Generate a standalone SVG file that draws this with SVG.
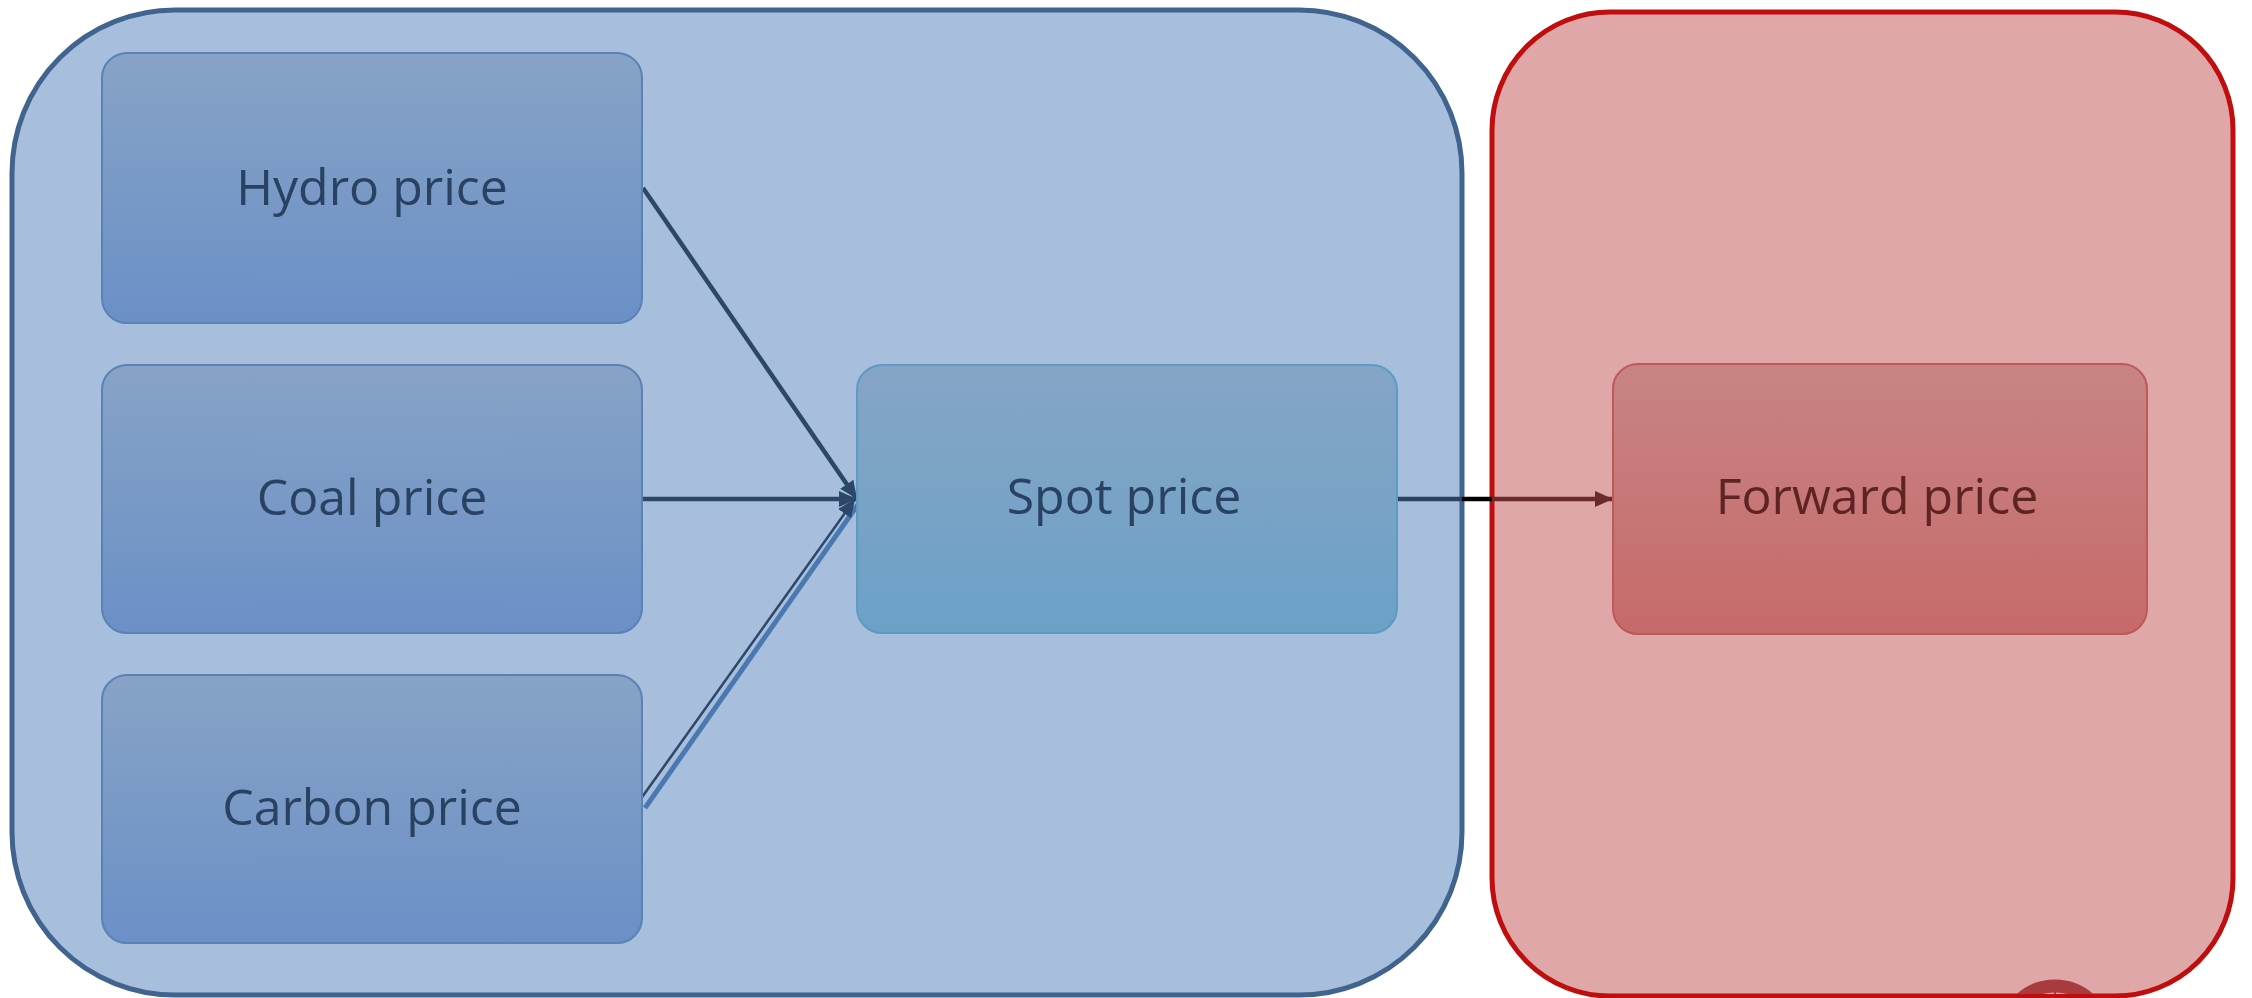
<svg xmlns="http://www.w3.org/2000/svg" width="2252" height="998" viewBox="0 0 2252 998">
<defs>
<style>
.lbl{font-family:"Open Sans","Liberation Sans",sans-serif;font-size:50px;text-anchor:middle}
.bt{fill:#2a4262}
.rt{fill:#5e2424}
.bn{fill:url(#gBlue);stroke:#5a82b5;stroke-width:2}
</style>
<linearGradient id="gBlue" x1="0" y1="0" x2="0" y2="1"><stop offset="0" stop-color="#87a3c6"/><stop offset="1" stop-color="#6b90c7"/></linearGradient>
<linearGradient id="gSpot" x1="0" y1="0" x2="0" y2="1"><stop offset="0" stop-color="#85a5c6"/><stop offset="1" stop-color="#6ca1c7"/></linearGradient>
<linearGradient id="gFwd" x1="0" y1="0" x2="0" y2="1"><stop offset="0" stop-color="#c88484"/><stop offset="1" stop-color="#c66a6a"/></linearGradient>
<marker id="aB" markerUnits="userSpaceOnUse" markerWidth="22" markerHeight="18" refX="18" refY="9" orient="auto"><path d="M0,1 L18,9 L0,17 Z" fill="#2c4767"/></marker>
<marker id="aR" markerUnits="userSpaceOnUse" markerWidth="22" markerHeight="18" refX="18" refY="9" orient="auto"><path d="M0,1 L18,9 L0,17 Z" fill="#6a2b2b"/></marker>
<clipPath id="cBottom"><rect x="0" y="0" width="2252" height="994"/></clipPath>
</defs>
<g id="group-blue">
<rect x="12" y="10" width="1450" height="985" rx="163" ry="163" fill="#a7bfdd" stroke="#41648f" stroke-width="5"/>
</g>
<g id="group-red">
<rect x="1492" y="12" width="741" height="984" rx="118" ry="118" fill="#dfa7a7" stroke="#c00d0d" stroke-width="5"/>
</g>
<g id="loop-mark" clip-path="url(#cBottom)">
<circle cx="2055" cy="1037" r="51" fill="#e6b3b3" stroke="#a83c3c" stroke-width="13"/>
<line x1="2055" y1="990" x2="2055" y2="998" stroke="#a83c3c" stroke-width="2"/>
</g>
<g id="connectors" fill="none">
<line x1="643" y1="188" x2="857" y2="499" stroke="#2c4767" stroke-width="4.5" marker-end="url(#aB)"/>
<line x1="643" y1="499" x2="857" y2="499" stroke="#2c4767" stroke-width="4.5" marker-end="url(#aB)"/>
<line x1="645" y1="808" x2="859" y2="503" stroke="#4a78b0" stroke-width="5"/>
<line x1="640" y1="800" x2="855" y2="499" stroke="#2c4767" stroke-width="2.5" marker-end="url(#aB)"/>
<line x1="1397" y1="499" x2="1462" y2="499" stroke="#2c4260" stroke-width="4.5"/>
<line x1="1462" y1="499" x2="1492" y2="499" stroke="#000000" stroke-width="4.5"/>
<line x1="1492" y1="499" x2="1613" y2="499" stroke="#6a2b2b" stroke-width="4.5" marker-end="url(#aR)"/>
</g>
<g id="node-hydro">
<rect class="bn" x="102" y="53" width="540" height="270" rx="25" ry="25"/>
<text class="lbl bt" x="372" y="205">Hydro price</text>
</g>
<g id="node-coal">
<rect class="bn" x="102" y="365" width="540" height="268" rx="25" ry="25"/>
<text class="lbl bt" x="372" y="515">Coal price</text>
</g>
<g id="node-carbon">
<rect class="bn" x="102" y="675" width="540" height="268" rx="25" ry="25"/>
<text class="lbl bt" x="372" y="825">Carbon price</text>
</g>
<g id="node-spot">
<rect x="857" y="365" width="540" height="268" rx="25" ry="25" fill="url(#gSpot)" stroke="#5d9bc4" stroke-width="2"/>
<text class="lbl bt" x="1124" y="514">Spot price</text>
</g>
<g id="node-forward">
<rect x="1613" y="364" width="534" height="270" rx="25" ry="25" fill="url(#gFwd)" stroke="#bc5a5a" stroke-width="2"/>
<text class="lbl rt" x="1877" y="514">Forward price</text>
</g>
</svg>
